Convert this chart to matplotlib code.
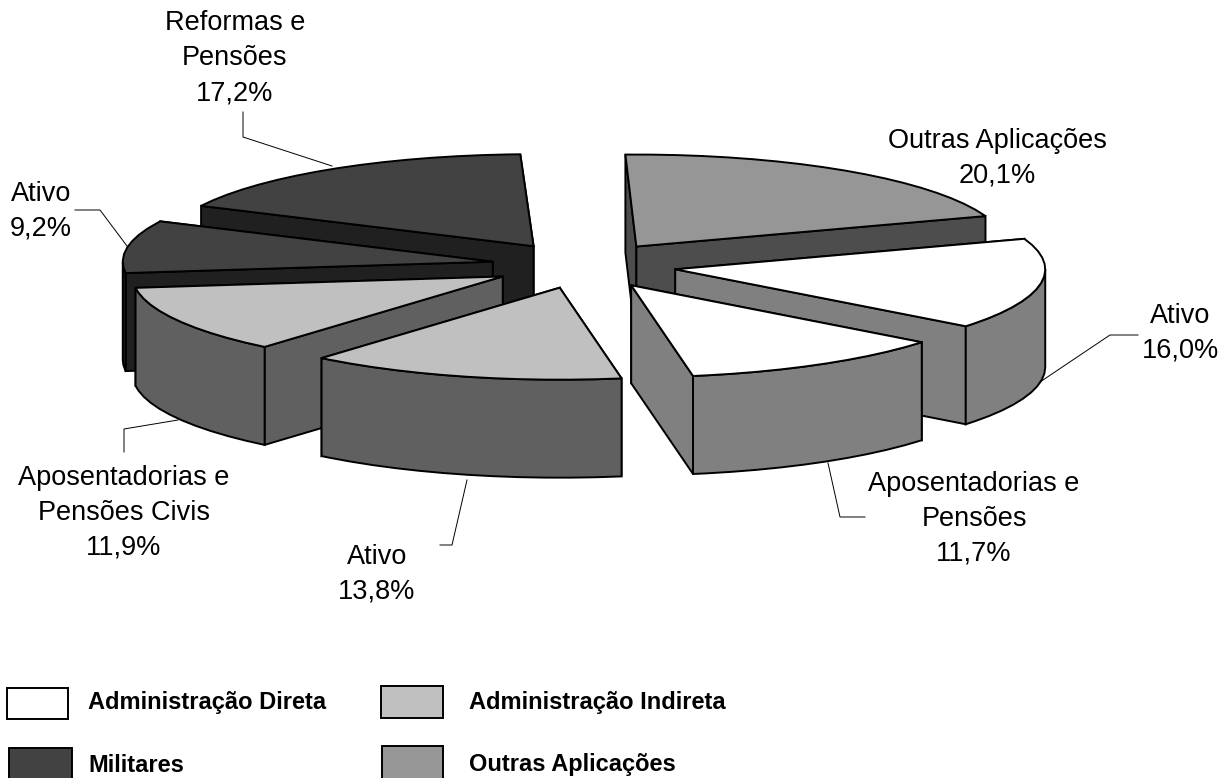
import numpy as np
import matplotlib
matplotlib.use("Agg")
import matplotlib.pyplot as plt
from matplotlib.patches import Polygon, Rectangle

# Slices, clockwise from the top
slice_names = ["Outras Aplicações", "Ativo", "Aposentadorias e\nPensões", "Ativo",
               "Aposentadorias e\nPensões Civis", "Ativo", "Reformas e\nPensões"]
slice_values = [20.1, 16.0, 11.7, 13.8, 11.9, 9.2, 17.2]
slice_groups = ["outras", "direta", "direta", "indireta", "indireta", "militares", "militares"]

legend_names = ["Administração Direta", "Administração Indireta", "Militares", "Outras Aplicações"]
legend_groups = ["direta", "indireta", "militares", "outras"]

# group: (top colour, side colour)
colors = {
    "direta": ("#ffffff", "#808080"),
    "indireta": ("#c0c0c0", "#606060"),
    "militares": ("#424242", "#202020"),
    "outras": ("#969696", "#4d4d4d"),
}

# Pie geometry, in image pixels
cx, cy = 584, 265.5
rx, ry = 370, 92
depth = 98
explode = 0.25
start_angle = -1.7

# Painter's order, back to front
draw_order = [0, 1, 2, 6, 5, 4, 3]

# Label centre and leader line for each slice
label_pos = [(997, 158), (1180, 333), (974, 519), (377, 574), (124, 513), (41, 211), (235, 58)]
leaders = [
    None,
    [(1138, 335), (1110, 335), (1040, 382)],
    [(828, 463), (840, 517), (865, 517)],
    [(440, 545), (452, 545), (467, 480)],
    [(124, 452), (124, 429), (178, 420)],
    [(75, 210), (100, 210), (127, 246)],
    [(243, 112), (243, 137), (332, 166)],
]

legend_boxes = [(7, 688, 61, 31), (381, 686, 62, 32), (9, 748, 63, 32), (382, 746, 61, 34)]
legend_text_pos = [(88, 703), (469, 703), (88, 765), (469, 765)]


def rim(apex, t):
    t = np.radians(t)
    return np.column_stack([apex[0] + rx * np.sin(t), apex[1] - ry * np.cos(t)])


def face(ax, pts, color, lw=1.4):
    ax.add_patch(Polygon(pts, closed=True, facecolor=color, edgecolor="black",
                         linewidth=lw, joinstyle="miter"))


fig = plt.figure(figsize=(12.23, 7.78), dpi=100)
ax = fig.add_axes([0, 0, 1, 1])
ax.set_xlim(0, 1223)
ax.set_ylim(778, 0)
ax.axis("off")

plt.rcParams["font.family"] = ["Liberation Sans", "DejaVu Sans"]

edges = start_angle + np.cumsum([0] + slice_values) * 3.6

for i in draw_order:
    t0, t1 = edges[i], edges[i + 1]
    mid = np.radians((t0 + t1) / 2)
    apex = np.array([cx + explode * rx * np.sin(mid), cy - explode * ry * np.cos(mid)])
    top_col, side_col = colors[slice_groups[i]]
    down = np.array([0, depth])

    # radial walls, the one further back first
    p0, p1 = rim(apex, t0)[0], rim(apex, t1)[0]
    walls = sorted([p0, p1], key=lambda p: p[1])
    for p in walls:
        face(ax, [apex, p, p + down, apex + down], side_col)

    # outer wall, only the part facing the viewer
    a, b = max(t0, 90), min(t1, 270)
    if a < b:
        ts = np.arange(a, b, 4.0)
        ts = np.append(ts, b)
        arc = rim(apex, ts)
        face(ax, np.vstack([arc, (arc + down)[::-1]]), side_col)

    # top
    ts = np.append(np.arange(t0, t1, 4.0), t1)
    face(ax, np.vstack([apex, rim(apex, ts)]), top_col)

for name, val, pos, line in zip(slice_names, slice_values, label_pos, leaders):
    txt = name + "\n" + f"{val:.1f}%".replace(".", ",")
    ax.text(pos[0], pos[1], txt, ha="center", va="center", fontsize=19.5,
            linespacing=1.45, color="black")
    if line:
        xs, ys = zip(*line)
        ax.plot(xs, ys, color="black", lw=0.7)

for name, grp, box, tp in zip(legend_names, legend_groups, legend_boxes, legend_text_pos):
    ax.add_patch(Rectangle(box[:2], box[2], box[3], facecolor=colors[grp][0],
                           edgecolor="black", linewidth=1.4))
    ax.text(tp[0], tp[1], name, ha="left", va="center", fontsize=17, fontweight="bold",
            color="black")

fig.savefig("out.png", dpi=100)
